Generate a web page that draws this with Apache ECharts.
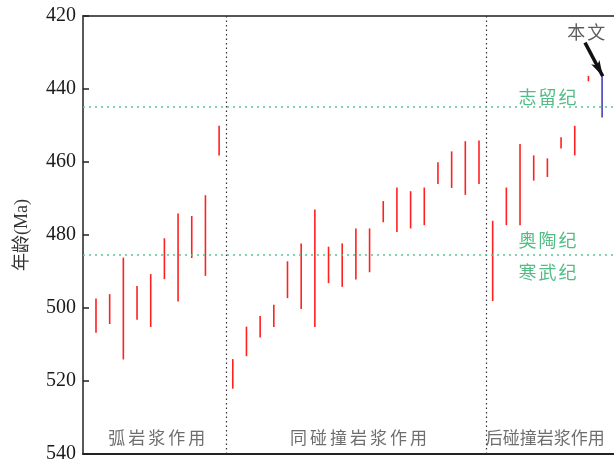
<!DOCTYPE html>
<html>
<head>
<meta charset="utf-8">
<script src="https://cdn.jsdelivr.net/npm/echarts@6/dist/echarts.min.js"></script>
<style>
  html, body { margin: 0; padding: 0; background: #fff; }
  #chart { width: 614px; height: 459px; }
</style>
</head>
<body>
<div id="chart"></div>
<script>
// Age ranges (Ma) of dated intrusions, one vertical bar per sample, grouped by setting
var arcYoung = [497.4, 496.2, 486.2, 494.0, 490.7, 480.9, 474.1, 474.8, 469.1, 450.1];
var arcOld   = [506.8, 504.4, 514.1, 503.2, 505.2, 492.1, 498.2, 486.3, 491.2, 458.2];

var synYoung = [514.0, 505.1, 502.2, 499.1, 487.2, 482.3, 473.0, 483.2, 482.3, 478.2,
                478.2, 470.7, 467.0, 468.0, 467.0, 460.1, 457.1, 454.3, 454.1];
var synOld   = [522.1, 513.2, 508.1, 505.2, 497.3, 500.3, 505.2, 493.2, 494.2, 492.2,
                490.2, 476.5, 479.2, 478.2, 477.3, 466.0, 467.1, 469.0, 466.0];

var postYoung = [476.1, 467.0, 455.1, 458.2, 459.0, 453.2, 450.1, 436.4];
var postOld   = [498.1, 477.3, 477.3, 465.1, 464.1, 456.3, 458.2, 437.9];

var thisStudy = [436.5, 447.8];

// Geological period boundaries (Ma)
var periodBounds = [444.8, 485.4];
var periodNames = ['志留纪', '奥陶纪', '寒武纪'];
var settingNames = ['弧岩浆作用', '同碰撞岩浆作用', '后碰撞岩浆作用'];
var yTicks = [420, 440, 460, 480, 500, 520, 540];

// Build [index, young, old] rows in sample order
var redRows = [];
var idx = 0;
[[arcYoung, arcOld], [synYoung, synOld], [postYoung, postOld]].forEach(function (g) {
  for (var i = 0; i < g[0].length; i++) { redRows.push([idx, g[0][i], g[1][i]]); idx++; }
});
var blueRows = [[idx, thisStudy[0], thisStudy[1]]];

// group separators sit halfway between adjacent groups
var sep1 = arcYoung.length - 0.5;
var sep2 = arcYoung.length + synYoung.length - 0.5;

function rangeBar(width) {
  return function (params, api) {
    var a = api.coord([api.value(0), api.value(1)]);
    var b = api.coord([api.value(0), api.value(2)]);
    return {
      type: 'line',
      shape: { x1: a[0], y1: a[1], x2: b[0], y2: b[1] },
      style: { stroke: api.visual('color'), lineWidth: width }
    };
  };
}

var green = '#27ab66';
var textRows = [
  { value: [33.0, 442.3], name: periodNames[0], color: green, size: 18, gap: 2 },
  { value: [33.0, 481.4], name: periodNames[1], color: green, size: 18, gap: 2 },
  { value: [33.0, 490.3], name: periodNames[2], color: green, size: 18, gap: 2 },
  { value: [4.45, 535.6], name: settingNames[0], color: '#4a4a4a', size: 17, gap: 3 },
  { value: [19.2, 535.6], name: settingNames[1], color: '#4a4a4a', size: 17, gap: 3 },
  { value: [32.85, 535.6], name: settingNames[2], color: '#4a4a4a', size: 17, gap: 0 },
  { value: [35.85, 424.4], name: '本文', color: '#333', size: 18, gap: 2 }
];

// per-character rich styles so the glyphs can be spaced apart
function spacedLabel(t) {
  var chars = t.name.split('');
  var rich = {
    c: { fontSize: t.size, color: t.color, fontFamily: 'Noto Sans CJK SC', padding: [0, t.gap / 2] }
  };
  return {
    show: true, position: 'inside',
    formatter: chars.map(function (ch) { return '{c|' + ch + '}'; }).join(''),
    rich: rich
  };
}

var chart = echarts.init(document.getElementById('chart'), null, { renderer: 'canvas' });
chart.setOption({
  animation: false,
  backgroundColor: '#fff',
  grid: { left: 83, top: 16, right: 0, bottom: 5, containLabel: false, outerBoundsMode: 'none' },
  xAxis: [{
    type: 'value', min: -0.95, max: 37.87, position: 'bottom',
    axisLine: { show: true, onZero: false, lineStyle: { color: '#222', width: 2 } },
    axisTick: { show: false }, axisLabel: { show: false }, splitLine: { show: false }
  }, {
    type: 'value', min: -0.95, max: 37.87, position: 'top',
    axisLine: { show: true, onZero: false, lineStyle: { color: '#555', width: 2 } },
    axisTick: { show: false }, axisLabel: { show: false }, splitLine: { show: false }
  }],
  yAxis: {
    type: 'value', inverse: true, min: yTicks[0], max: yTicks[yTicks.length - 1], interval: 20,
    name: '年龄(Ma)', nameLocation: 'middle', nameGap: 52, nameRotate: 90,
    nameTextStyle: { fontSize: 18, color: '#333', fontFamily: 'Liberation Serif, Noto Sans CJK SC' },
    axisLine: { show: true, onZero: false, lineStyle: { color: '#222', width: 1.5 } },
    axisTick: { show: true, inside: true, length: 6, lineStyle: { color: '#222', width: 1.5 } },
    axisLabel: { fontSize: 20, color: '#1a1a1a', fontFamily: 'Liberation Serif', margin: 7 },
    splitLine: { show: false }
  },
  series: [
    {
      type: 'custom', name: 'published', xAxisIndex: 0,
      renderItem: rangeBar(1.6), itemStyle: { color: '#ff2020' },
      data: redRows, z: 3,
      markLine: {
        silent: true, symbol: 'none', label: { show: false },
        data: [
          { xAxis: sep1, lineStyle: { color: '#333', type: [1.5, 3], width: 1.2 } },
          { xAxis: sep2, lineStyle: { color: '#333', type: [1.5, 3], width: 1.2 } },
          { yAxis: periodBounds[0], lineStyle: { color: '#5cc48e', type: [2, 4], width: 1.5 } },
          { yAxis: periodBounds[1], lineStyle: { color: '#5cc48e', type: [2, 4], width: 1.5 } }
        ]
      }
    },
    {
      type: 'custom', name: '本文', xAxisIndex: 0,
      renderItem: rangeBar(1.6), itemStyle: { color: '#4444b8' },
      data: blueRows, z: 4,
      markLine: {
        silent: true, symbol: ['none', 'arrow'], symbolSize: [7, 16], label: { show: false },
        lineStyle: { color: '#111', type: 'solid', width: 3.5 },
        data: [[
          { coord: [35.75, 427.3] },
          { coord: [blueRows[0][0] + 0.05, thisStudy[0]] }
        ]]
      }
    },
    {
      type: 'scatter', symbolSize: 0, silent: true, z: 5,
      data: textRows.map(function (t) {
        return { value: t.value, name: t.name, label: spacedLabel(t) };
      })
    }
  ]
});
</script>
</body>
</html>
